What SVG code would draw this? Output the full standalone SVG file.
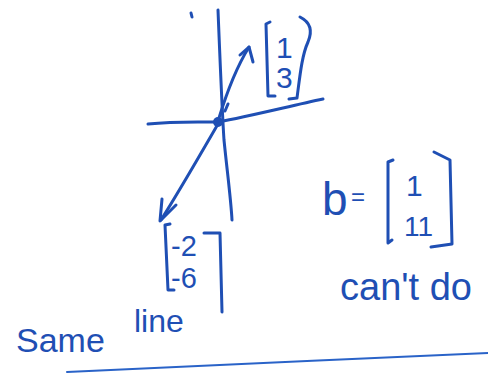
<svg xmlns="http://www.w3.org/2000/svg" width="488" height="373" viewBox="0 0 488 373">
<style>
.ink{fill:none;stroke:#1f4fb4;stroke-width:3;stroke-linecap:round;stroke-linejoin:round}
.thin{fill:none;stroke:#2a63c8;stroke-width:2;stroke-linecap:round}
.hw{fill:#1f4fb4;font-family:"Liberation Sans","DejaVu Sans",sans-serif}
</style>
<rect width="488" height="373" fill="#ffffff"/>
<g id="axes">
<path class="ink" d="M218 10 C220 60 222 110 224 140 C227 170 231 200 232 220"/>
<path class="ink" d="M148 124 C175 121 200 122 218 122 C250 116 290 106 323 99"/>
<circle cx="218" cy="122" r="5" fill="#1f4fb4"/>
<path class="ink" d="M191 13 L192 17"/>
</g>
<g id="connectors">
<path class="ink" d="M219 118 C226 95 236 68 249 47"/>
<path class="ink" d="M240 55 L249 47 L253 62"/>
<path class="ink" d="M218 124 C200 155 180 190 161 220"/>
<path class="ink" d="M162 199 L160 221 L176 205"/>
<path class="ink" d="M225 111 L228 104"/>
</g>
<g id="vec13">
<path class="ink" d="M270 22 L266 24 L268 96 L275 96"/>
<path class="ink" d="M300 17 C310 22 313 30 308 42 C302 55 300 75 297 98 L289 99"/>
<text class="hw" x="276" y="58" font-size="30">1</text>
<text class="hw" x="276" y="88" font-size="30">3</text>
</g>
<g id="vec26">
<path class="ink" d="M170 224 L165 225 L168 290 L174 290"/>
<path class="ink" d="M204 233 L220 233 L222 312"/>
<text class="hw" x="171" y="256" font-size="29">-2</text>
<text class="hw" x="171" y="288" font-size="29">-6</text>
</g>
<g id="bvec">
<text class="hw" x="322" y="215" font-size="46">b</text>
<text class="hw" x="351" y="205" font-size="24">=</text>
<path class="ink" d="M393 160 L388 162 L388 243 L392 240"/>
<path class="ink" d="M434 152 L450 160 L452 244 L431 247"/>
<text class="hw" x="406" y="196" font-size="30">1</text>
<text class="hw" x="404" y="236" font-size="28">11</text>
</g>
<g id="cantdo">
<text class="hw" x="340" y="300" font-size="38">can't do</text>
</g>
<g id="sameline">
<text class="hw" x="16" y="352" font-size="34">Same</text>
<text class="hw" x="134" y="332" font-size="32">line</text>
</g>
<path class="thin" d="M67 372 C200 366 350 359 488 353"/>
</svg>
